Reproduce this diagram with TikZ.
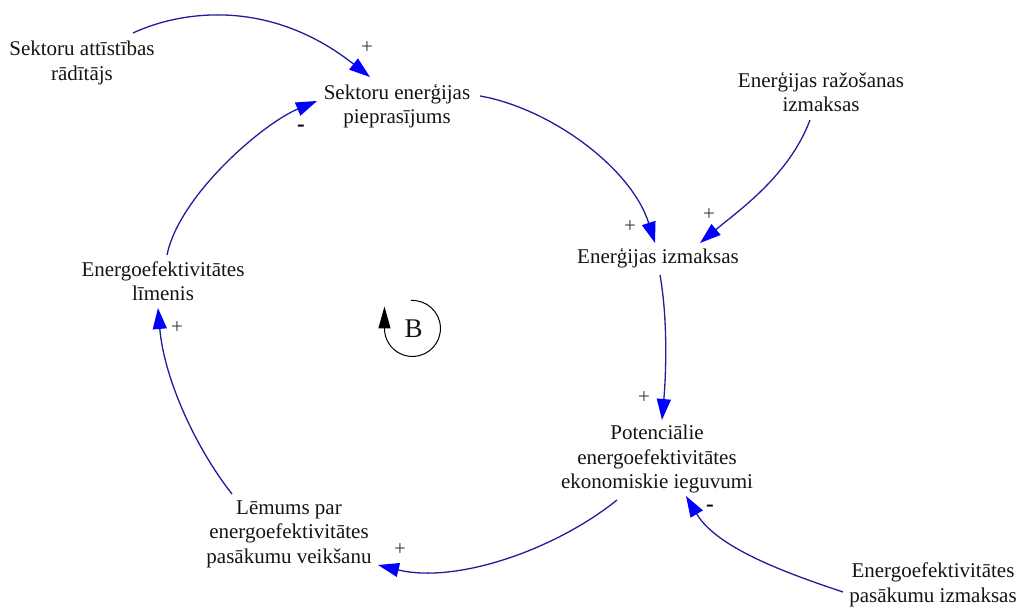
\documentclass[tikz,border=0pt]{standalone}
\usepackage{fontspec}
\setmainfont{Liberation Serif}
\usetikzlibrary{arrows.meta,calc}
\definecolor{linkblue}{RGB}{30,30,155}
\definecolor{headblue}{RGB}{0,0,255}
\definecolor{txt}{RGB}{20,20,20}
\definecolor{plusgray}{RGB}{55,55,55}
\begin{document}
\begin{tikzpicture}[x=1pt,y=-1pt,
  var/.style={align=center,font=\fontsize{21}{24.5}\selectfont,text=txt,inner sep=0pt},
  link/.style={draw=linkblue,line width=1.3pt,-{Triangle[length=21pt,width=14pt,color=headblue]}},
  pol/.style={font=\fontsize{21}{24.5}\selectfont,text=plusgray,inner sep=0pt},
  neg/.style={font=\fontsize{23}{24.5}\selectfont\bfseries,text=black,inner sep=0pt},
  loopline/.style={draw=black,line width=1pt,-{Triangle[length=22pt,width=12pt]}}]
\useasboundingbox (0,0) rectangle (1020,609);

% variables
\node[var] (A)  at (82,63)   {Sektoru attīstības\\rādītājs};
\node[var] (B)  at (397,106) {Sektoru enerģijas\\pieprasījums};
\node[var] (R)  at (821,92)  {Enerģijas ražošanas\\izmaksas};
\node[var] (E)  at (658,258) {Enerģijas izmaksas};
\node[var] (Lv) at (163,281) {Energoefektivitātes\\līmenis};
\node[var] (P)  at (657,459) {Potenciālie\\energoefektivitātes\\ekonomiskie ieguvumi};
\node[var] (L)  at (289,534) {Lēmums par\\energoefektivitātes\\pasākumu veikšanu};
\node[var] (Q)  at (933,585) {Energoefektivitātes\\pasākumu izmaksas};

% links
\draw[link] ($(A)+(51,-30)$) .. controls +(45,-21) and +(-103,-81) .. ($(B)+(-27,-29)$);
\draw[link] ($(B)+(83,-10)$) .. controls +(69,12) and +(-24,-76) .. ($(E)+(-3,-15)$);
\draw[link] ($(R)+(-11,28)$) .. controls +(-21,56) and +(38,-32) .. ($(E)+(42,-15)$);
\draw[link] ($(E)+(2,17)$) .. controls +(8,45) and +(4,-45) .. ($(P)+(5,-39)$);
\draw[link] ($(P)+(-40,41)$) .. controls +(-62,50) and +(78,19) .. ($(L)+(89,31)$);
\draw[link] ($(L)+(-57,-40)$) .. controls +(-37,-47) and +(6,70) .. ($(Lv)+(-5,27)$);
\draw[link] ($(Lv)+(4,-26)$) .. controls +(12,-59) and +(-55,23) .. ($(B)+(-80,-5)$);
\draw[link] ($(Q)+(-90,7)$) .. controls +(-57,-19) and +(31,52) .. ($(P)+(29,37)$);

% polarities
\node[pol] (p1) at (367,48)  {+};
\node[neg] (m1) at (301,128) {-};
\node[pol] (p2) at (630,227) {+};
\node[pol] (p3) at (709,215) {+};
\node[pol] (p4) at (644,398) {+};
\node[pol] (p5) at (400,550) {+};
\node[pol] (p6) at (177,328) {+};
\node[neg] (m2) at (710,508) {-};

% balancing loop symbol
\coordinate (loopc) at (412.5,328.5);
\node[font=\fontsize{27}{30}\selectfont,text=txt,inner sep=0pt] (Bl) at (413.5,329) {B};
\draw[loopline] ($(loopc)+(-1.5,-28)$) arc[start angle=-93,end angle=180,radius=28] -- ++(0,-22);
\end{tikzpicture}
\end{document}
